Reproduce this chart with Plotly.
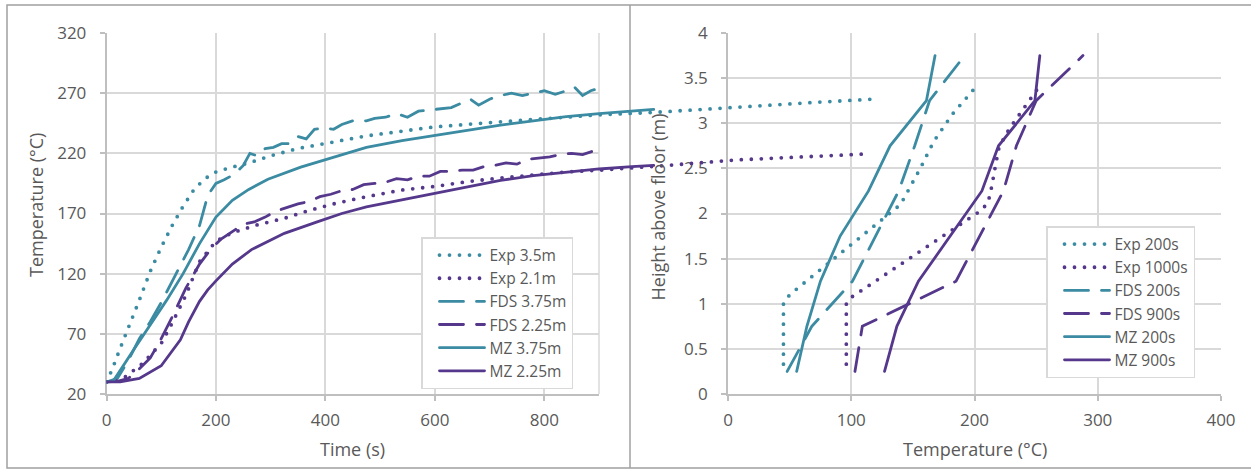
import plotly.graph_objects as go

# ---------------- data: gas temperature vs time (left panel) ----------------
exp35_t = [0, 10, 25, 45, 60, 80, 100, 120, 140, 160, 180, 200, 225, 260, 300, 350, 400,
           475, 550, 600, 700, 800, 900, 1000, 1100, 1200, 1300, 1400]
exp35_T = [30, 40, 58, 80, 98, 122, 142, 160, 176, 190, 199, 204.5, 208, 212, 218, 224, 228.5,
           234.5, 239, 242, 245.5, 249, 252, 254, 257, 260, 262.5, 265]

exp21_t = [0, 20, 35, 65, 100, 120, 145, 170, 200, 230, 275, 325, 370, 415, 475, 540, 600,
           660, 720, 780, 840, 900, 960, 1025, 1150, 1270, 1390]
exp21_T = [30, 31, 34.5, 45, 62, 79, 102, 130, 147, 154, 160.5, 166, 172.5, 178, 184, 189.5, 192.5,
           196.5, 199.5, 202, 204.5, 206, 207.7, 210, 214.5, 217, 219.5]

fds375_t = [0, 20, 40, 60, 80, 100, 125, 150, 170, 185, 200, 215, 235, 250, 262, 275, 290, 305,
            320, 335, 350, 365, 380, 400, 415, 430, 450, 475, 490, 510, 530, 550, 570, 590, 610,
            630, 650, 665, 680, 700, 720, 740, 760, 780, 800, 820, 840, 855, 870, 885, 900]
fds375_T = [30, 33, 48, 66, 80, 96, 118, 140, 160, 185, 195, 198, 203, 210, 220, 218, 224, 225,
            228, 228, 234, 232, 240, 241, 240, 244, 247, 247, 249, 250, 253, 250, 255, 256, 257,
            258, 262, 265, 260, 265, 268, 270, 268, 270, 272, 269, 272, 275, 268, 272, 274]

fds225_t = [0, 20, 40, 60, 80, 100, 120, 145, 170, 190, 210, 230, 250, 270, 290, 310, 330, 350,
            370, 390, 410, 430, 450, 470, 490, 510, 530, 550, 570, 590, 610, 630, 650, 670, 690,
            710, 730, 750, 770, 790, 810, 830, 850, 870, 890, 900]
fds225_T = [30, 30.5, 33, 41, 50, 66, 84, 108, 128, 140, 149, 155, 161, 163, 167, 172, 175, 178,
            180, 184, 186, 189, 190, 194, 195, 196, 199, 198, 201, 201, 205, 205, 206, 206, 209,
            210, 212, 211, 215, 216, 217, 219, 220, 219, 222, 222]

mz375_t = [0, 12, 50, 80, 110, 140, 170, 200, 230, 260, 295, 355, 415, 475, 540, 600, 660, 720,
           780, 840, 900, 960, 1000]
mz375_T = [30, 30.5, 57, 77, 98, 120, 145, 167, 181, 190, 198.5, 208.5, 217, 225, 230.5, 235,
           239.5, 243.5, 247, 250.5, 253, 255, 256.5]

mz225_t = [0, 25, 60, 100, 135, 150, 170, 185, 200, 230, 265, 325, 385, 430, 475, 540, 600, 660,
           720, 780, 840, 900, 960, 1000]
mz225_T = [30, 30, 33, 43.5, 65, 80, 97, 106.5, 114, 128, 140, 153.5, 163, 170, 175.5, 181.5,
           187, 192.5, 197.5, 201.5, 204.5, 207, 209, 210]

# ---------------- data: vertical temperature profiles (right panel) ----------------
exp200_T = [45, 45, 50, 86, 140, 156, 167, 182, 201]
exp200_h = [0.33, 1.0, 1.1, 1.5, 2.1, 2.5, 2.8, 3.1, 3.4]

exp1000_T = [96, 96, 101, 205, 211, 214, 217, 220, 228.3, 251.6]
exp1000_h = [0.33, 1.0, 1.08, 2.03, 2.12, 2.3, 2.53, 2.74, 2.94, 3.39]

fds200_T = [48, 68, 101, 119.5, 138.5, 151.5, 163.5, 192]
fds200_h = [0.25, 0.75, 1.25, 1.75, 2.25, 2.75, 3.25, 3.75]

fds900_T = [103, 109, 185, 204, 223.5, 234, 250, 288]
fds900_h = [0.25, 0.75, 1.25, 1.75, 2.25, 2.75, 3.25, 3.75]

mz200_T = [55.7, 64, 75, 91, 114, 131.5, 161, 168]
mz200_h = [0.25, 0.75, 1.25, 1.75, 2.25, 2.75, 3.25, 3.75]

mz900_T = [127, 137, 154.5, 180, 206, 219.5, 249, 253]
mz900_h = [0.25, 0.75, 1.25, 1.75, 2.25, 2.75, 3.25, 3.75]

left_y_ticks = [20, 70, 120, 170, 220, 270, 320]
left_x_ticks = [0, 200, 400, 600, 800]
right_x_ticks = [0, 100, 200, 300, 400]
right_y_ticks = [0, 0.5, 1, 1.5, 2, 2.5, 3, 3.5, 4]

# ---------------- styling ----------------
W, H = 1251, 470
TEAL = "#3B8BA3"
PURPLE = "#55388C"
GRID = "#d9d9d9"
AXIS = "#bfbfbf"
TEXT = "#595959"
FONT = "Open Sans"

DOT = dict(width=3.8, dash="0px,10px")
DASH = dict(width=2.8, dash="24px,13px")
SOLID = dict(width=2.8)


def px_x(p):
    return p / W


def px_y(p):
    return 1 - p / H


# plot-area edges in pixels
L_X0, L_X1 = 106.5, 599
R_X0, R_X1 = 728, 1221
P_TOP, P_BOT = 33, 394

fig = go.Figure()

# Series that stop at 900 s sit on the framed time axes; the longer records
# (Exp, MZ) use a wide hidden axis pair so they run on past the frame.
left_series = [
    ("Exp 3.5m", exp35_t, exp35_T, TEAL, DOT, True),
    ("Exp 2.1m", exp21_t, exp21_T, PURPLE, DOT, True),
    ("FDS 3.75m", fds375_t, fds375_T, TEAL, DASH, False),
    ("FDS 2.25m", fds225_t, fds225_T, PURPLE, DASH, False),
    ("MZ 3.75m", mz375_t, mz375_T, TEAL, SOLID, True),
    ("MZ 2.25m", mz225_t, mz225_T, PURPLE, SOLID, True),
]
for name, t, T, col, sty, wide in left_series:
    fig.add_trace(go.Scatter(x=t, y=T, name=name, mode="lines",
                             line=dict(color=col, **sty),
                             xaxis="x3" if wide else "x",
                             yaxis="y3" if wide else "y",
                             legend="legend"))

right_series = [
    ("Exp 200s", exp200_T, exp200_h, TEAL, DOT),
    ("Exp 1000s", exp1000_T, exp1000_h, PURPLE, DOT),
    ("FDS 200s", fds200_T, fds200_h, TEAL, DASH),
    ("FDS 900s", fds900_T, fds900_h, PURPLE, DASH),
    ("MZ 200s", mz200_T, mz200_h, TEAL, SOLID),
    ("MZ 900s", mz900_T, mz900_h, PURPLE, SOLID),
]
for name, T, h, col, sty in right_series:
    fig.add_trace(go.Scatter(x=T, y=h, name=name, mode="lines",
                             line=dict(color=col, **sty),
                             xaxis="x2", yaxis="y2", legend="legend2"))

tick_font = dict(family=FONT, size=17, color=TEXT)
common = dict(showgrid=True, gridcolor=GRID, gridwidth=1.5, zeroline=False,
              showline=True, linecolor=AXIS, linewidth=1.5,
              ticks="outside", ticklen=5, tickwidth=1.5, tickcolor=AXIS,
              tickfont=tick_font, fixedrange=True, automargin=False)

y_dom = [px_y(P_BOT), px_y(P_TOP)]
lx_dom = [px_x(L_X0), px_x(L_X1)]
rx_dom = [px_x(R_X0), px_x(R_X1)]
wide_dom = [px_x(L_X0), 1.0]
x_max = 900
wide_max = x_max * (wide_dom[1] - wide_dom[0]) / (lx_dom[1] - lx_dom[0])

legend_style = dict(xanchor="left", yanchor="top", bgcolor="white",
                    bordercolor=GRID, borderwidth=1.5,
                    font=dict(family=FONT, size=15.5, color=TEXT),
                    itemwidth=45, indentation=12)

fig.update_layout(
    width=W, height=H, autosize=False,
    margin=dict(l=0, r=0, t=0, b=0, pad=0, autoexpand=False),
    paper_bgcolor="white", plot_bgcolor="rgba(0,0,0,0)",
    font=dict(family=FONT, color=TEXT),
    xaxis=dict(domain=lx_dom, range=[0, x_max], tickvals=left_x_ticks,
               anchor="y", ticklabelstandoff=5, **common),
    yaxis=dict(domain=y_dom, range=[20, 320], tickvals=left_y_ticks,
               anchor="x", ticklabelstandoff=10, **common),
    xaxis2=dict(domain=rx_dom, range=[0, 400], tickvals=right_x_ticks,
                anchor="y2", ticklabelstandoff=5, **common),
    yaxis2=dict(domain=y_dom, range=[0, 4], tickvals=right_y_ticks,
                anchor="x2", ticklabelstandoff=10, **common),
    xaxis3=dict(domain=wide_dom, range=[0, wide_max], anchor="y3",
                visible=False, showgrid=False, zeroline=False, fixedrange=True),
    yaxis3=dict(domain=y_dom, range=[20, 320], anchor="x3",
                visible=False, showgrid=False, zeroline=False, fixedrange=True),
    legend=dict(x=px_x(421), y=px_y(237), **legend_style),
    legend2=dict(x=px_x(1046), y=px_y(226), **legend_style),
    showlegend=True,
)

# axis titles
title_font = dict(family=FONT, size=18, color=TEXT)
titles = [
    ("Temperature (°C)", 35.5, 205.5, -90),
    ("Time (s)", 352.5, 449, 0),
    ("Height above floor (m)", 657.5, 207, -90),
    ("Temperature (°C)", 974.5, 449, 0),
]
for text, tx, ty, ang in titles:
    fig.add_annotation(text=text, x=px_x(tx), y=px_y(ty), xref="paper", yref="paper",
                       xanchor="center", yanchor="middle", showarrow=False,
                       textangle=ang, font=title_font)

# right-hand edge of the time plot area
fig.add_shape(type="line", xref="x domain", yref="y domain", x0=1, x1=1, y0=0, y1=1,
              line=dict(color=GRID, width=1.5), layer="below")
# outer frame and panel divider
FRAME = "#a0a0a0"
fig.add_shape(type="rect", xref="paper", yref="paper", x0=px_x(7), x1=1.01,
              y0=px_y(468), y1=px_y(5), line=dict(color=FRAME, width=1.5), layer="below")
fig.add_shape(type="line", xref="paper", yref="paper", x0=px_x(630), x1=px_x(630),
              y0=px_y(468), y1=px_y(5), line=dict(color=FRAME, width=1.5), layer="below")

round_caps = (
    "var s=document.createElement('style');"
    "s.textContent='path.js-line{stroke-linecap:round;}';"
    "document.head.appendChild(s);"
)
fig.write_html("out.html", post_script=round_caps)
